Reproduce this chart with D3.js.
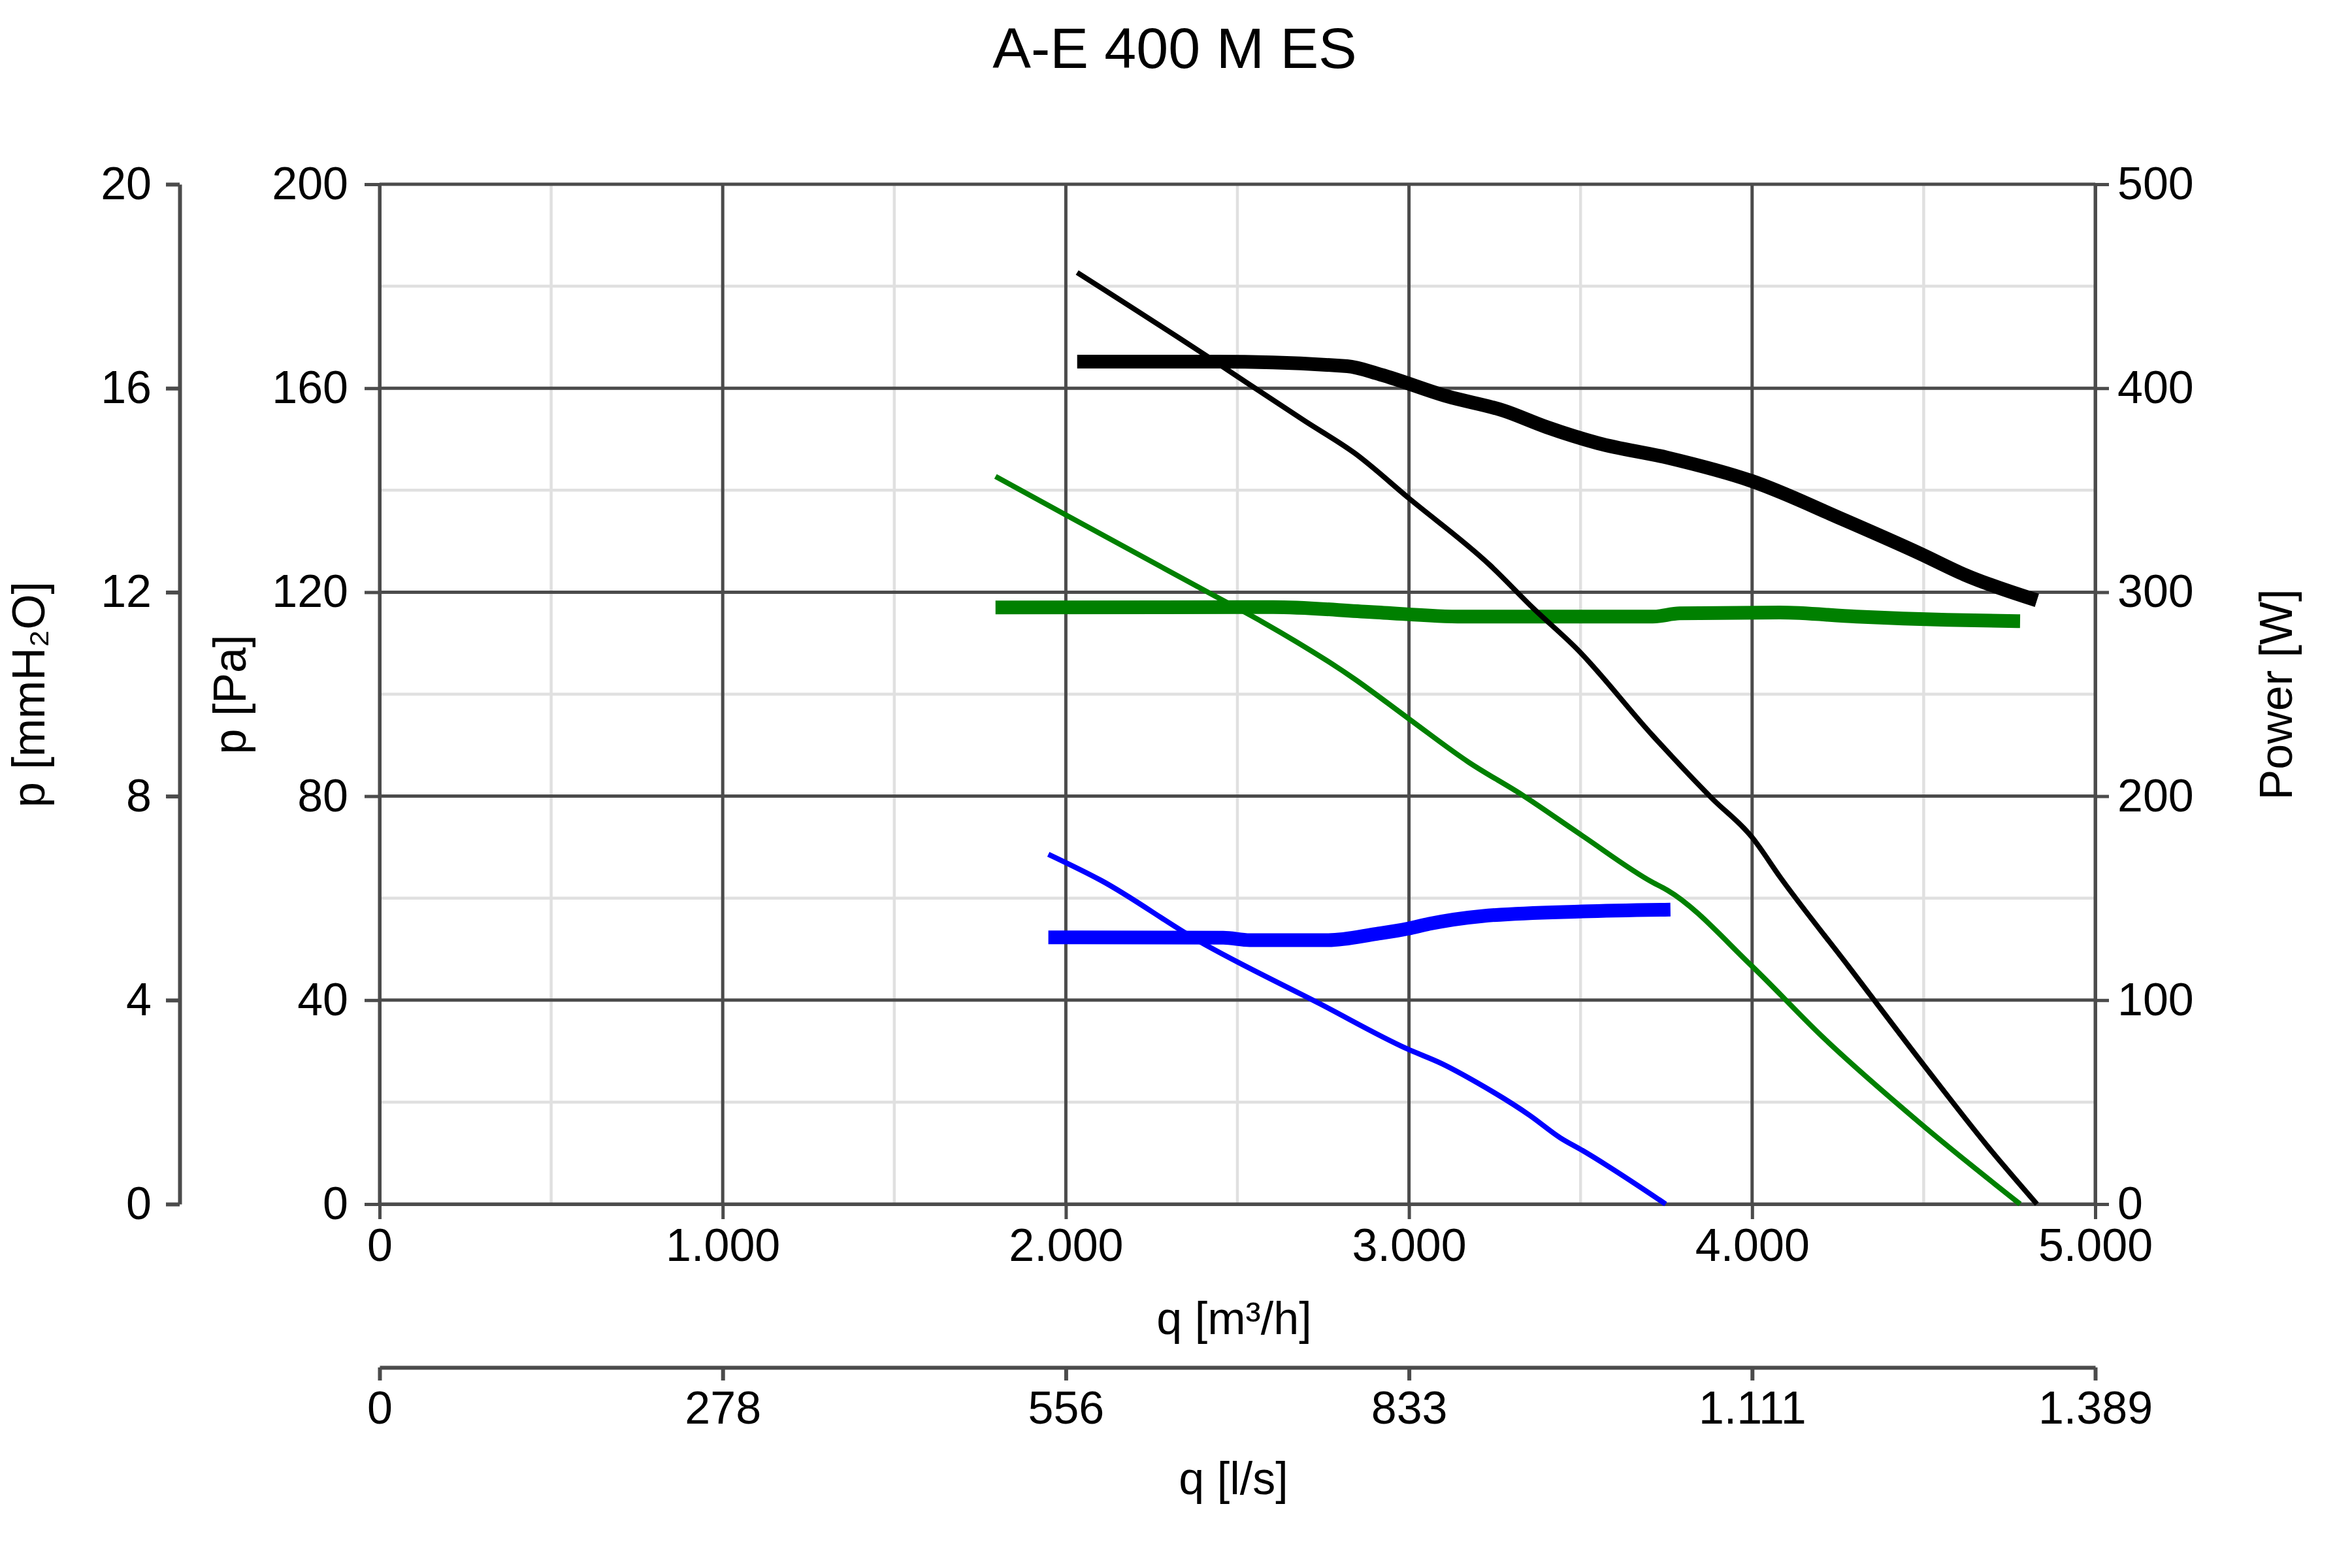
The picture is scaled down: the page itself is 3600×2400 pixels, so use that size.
<!DOCTYPE html>
<html lang="en">
  <head>
    <meta charset="UTF-8">
    <title>A-E 400 M ES</title>
    <style>
      body { margin: 0; background: #fff; }
      text { font-family: "Liberation Sans", Arial, sans-serif; fill: #000; }
    </style>
  </head>
  <body>
    <div id="chart"></div>
    <script src="https://d3js.org/d3.v7.js"></script>
    <script>
        // flow [m3/h] and pressure [Pa] / power [W]
        var qBlackP = [2033, 2422, 2529, 2698, 2841, 3000, 3236, 3363, 3489, 3710, 3884, 3999, 4084, 4280, 4501, 4688, 4830];
        var pBlackP = [182.7, 165.8, 161.0, 153.5, 147.3, 138.4, 125.3, 116.8, 108.9, 91.9, 79.5, 72.0, 63.9, 46.7, 27.2, 11.2, 0];
        var qBlackW = [2033, 2440, 2820, 2917, 3112, 3276, 3400, 3552, 3752, 3999, 4263, 4491, 4619, 4830];
        var wBlackW = [413, 413, 410.8, 406.7, 396, 389, 381, 373, 366, 354.5, 335.8, 318.8, 308.6, 296];

        var qGreenP = [1795, 1996, 2430, 2572, 2841, 2999, 3173, 3331, 3504, 3710, 3752, 3999, 4202, 4491, 4781];
        var pGreenP = [142.7, 135.3, 119.4, 114.2, 103.0, 95.2, 86.7, 80.2, 72.3, 63.1, 61.6, 46.7, 33.0, 15.8, 0];
        var qGreenW = [1795, 2604, 2889, 3158, 3710, 3789, 4081, 4304, 4568, 4781];
        var wGreenW = [292.5, 292.7, 290.3, 288, 288, 289.6, 290, 288, 286.4, 285.8];

        var qBlueP = [1949, 2102, 2382, 2740, 2996, 3097, 3199, 3352, 3441, 3506, 3748];
        var pBlueP = [68.6, 63.5, 51.8, 39.3, 30.4, 27.5, 23.8, 17.4, 13.0, 10.5, 0];
        var qBlueW = [1949, 2459, 2536, 2765, 2906, 2996, 3059, 3213, 3506, 3762];
        var wBlueW = [130.8, 130.6, 129.4, 129.4, 132.5, 135, 137.4, 141.2, 143.5, 144.4];

        // tick values
        var qTicks = [0, 1000, 2000, 3000, 4000, 5000];
        var qMinor = [500, 1500, 2500, 3500, 4500];
        var paTicks = [0, 40, 80, 120, 160, 200];
        var paMinor = [20, 60, 100, 140, 180];
        var mmTicks = [0, 4, 8, 12, 16, 20];
        var wTicks = [0, 100, 200, 300, 400, 500];
        var lsTicks = qTicks.map(function(q){ return q / 3.6; });

        var loc = d3.formatLocale({decimal: ",", thousands: ".", grouping: [3], currency: ["", "€"]});
        var fmt = loc.format(",.0f");

        var width = 3600, height = 2400;
        // plot box (window.top is reserved, so no "top" here)
        var plotL = 581, plotR = 3207, plotT = 282, plotB = 1843;
        var gridDark = "#4b4b4b", gridLight = "#e0e0e0";

        var svg = d3.select("#chart")
          .append("svg")
            .attr("width", width)
            .attr("height", height);

        svg.append("rect").attr("width", width).attr("height", height).attr("fill", "#fff");

        var x = d3.scaleLinear().domain([0, 5000]).range([plotL, plotR]);
        var xLs = d3.scaleLinear().domain([0, 5000 / 3.6]).range([plotL, plotR]);
        var yPa = d3.scaleLinear().domain([0, 200]).range([plotB, plotT]);
        var yMm = d3.scaleLinear().domain([0, 20]).range([plotB, plotT]);
        var yW = d3.scaleLinear().domain([0, 500]).range([plotB, plotT]);

        // minor grid
        var grid = svg.append("g");
        grid.selectAll(".vmin").data(qMinor).enter().append("line")
            .attr("x1", function(d){ return x(d); }).attr("x2", function(d){ return x(d); })
            .attr("y1", yPa(0)).attr("y2", yPa(200))
            .attr("stroke", gridLight).attr("stroke-width", 4.5);
        grid.selectAll(".hmin").data(paMinor).enter().append("line")
            .attr("x1", x(0)).attr("x2", x(5000))
            .attr("y1", function(d){ return yPa(d); }).attr("y2", function(d){ return yPa(d); })
            .attr("stroke", gridLight).attr("stroke-width", 4.5);

        // major grid
        grid.selectAll(".vmaj").data(qTicks).enter().append("line")
            .attr("x1", function(d){ return x(d); }).attr("x2", function(d){ return x(d); })
            .attr("y1", yPa(0)).attr("y2", yPa(200))
            .attr("stroke", gridDark).attr("stroke-width", 5);
        grid.selectAll(".hmaj").data(paTicks).enter().append("line")
            .attr("x1", x(0)).attr("x2", x(5000))
            .attr("y1", function(d){ return yPa(d); }).attr("y2", function(d){ return yPa(d); })
            .attr("stroke", gridDark).attr("stroke-width", 5);

        function styleAxis(g, lw) {
            g.attr("font-family", null).attr("font-size", null);
            g.select(".domain").attr("stroke", gridDark).attr("stroke-width", lw);
            g.selectAll(".tick line").attr("stroke", gridDark).attr("stroke-width", lw);
            g.selectAll(".tick text").attr("font-size", 70).attr("fill", "#000");
        }

        // Pa axis
        svg.append("g").attr("transform", "translate(" + plotL + ",0)")
            .call(d3.axisLeft(yPa).tickValues(paTicks).tickSize(23).tickSizeOuter(0).tickPadding(25))
            .call(styleAxis, 5);

        // mmH2O axis
        svg.append("g").attr("transform", "translate(275,0)")
            .call(d3.axisLeft(yMm).tickValues(mmTicks).tickSize(21).tickSizeOuter(0).tickPadding(22))
            .call(styleAxis, 6);

        // power axis
        svg.append("g").attr("transform", "translate(" + plotR + ",0)")
            .call(d3.axisRight(yW).tickValues(wTicks).tickSize(21).tickSizeOuter(0).tickPadding(13))
            .call(styleAxis, 5);

        // q m3/h axis
        svg.append("g").attr("transform", "translate(0," + plotB + ")")
            .call(d3.axisBottom(x).tickValues(qTicks).tickFormat(fmt).tickSize(23).tickSizeOuter(0).tickPadding(14))
            .call(styleAxis, 5);

        // q l/s axis
        svg.append("g").attr("transform", "translate(0,2093)")
            .call(d3.axisBottom(xLs).tickValues(lsTicks).tickFormat(fmt).tickSize(20).tickSizeOuter(0).tickPadding(16))
            .call(styleAxis, 6);

        // curves
        var lineP = d3.line().x(function(d){ return x(d[0]); }).y(function(d){ return yPa(d[1]); }).curve(d3.curveMonotoneX);
        var lineW = d3.line().x(function(d){ return x(d[0]); }).y(function(d){ return yW(d[1]); }).curve(d3.curveMonotoneX);

        var curves = [
            {q: qBlackW, v: wBlackW, gen: lineW, color: "#000000", w: 21},
            {q: qGreenW, v: wGreenW, gen: lineW, color: "#008000", w: 21},
            {q: qBlueW, v: wBlueW, gen: lineW, color: "#0000ff", w: 21},
            {q: qBlackP, v: pBlackP, gen: lineP, color: "#000000", w: 8},
            {q: qGreenP, v: pGreenP, gen: lineP, color: "#008000", w: 8},
            {q: qBlueP, v: pBlueP, gen: lineP, color: "#0000ff", w: 8}
        ];

        svg.append("g").selectAll("path")
          .data(curves)
          .enter()
          .append("path")
            .attr("d", function(c){ return c.gen(d3.zip(c.q, c.v)); })
            .attr("fill", "none")
            .attr("stroke", function(c){ return c.color; })
            .attr("stroke-width", function(c){ return c.w; })
            .attr("stroke-linejoin", "round");

        // titles
        svg.append("text").attr("x", 1798).attr("y", 104)
            .attr("text-anchor", "middle").attr("font-size", 88)
            .text("A-E 400 M ES");
        svg.append("text").attr("x", 1889).attr("y", 2042)
            .attr("text-anchor", "middle").attr("font-size", 70)
            .text("q [m³/h]");
        svg.append("text").attr("x", 1888).attr("y", 2287)
            .attr("text-anchor", "middle").attr("font-size", 70)
            .text("q [l/s]");
        svg.append("text").attr("transform", "translate(68,1063) rotate(-90)")
            .attr("text-anchor", "middle").attr("font-size", 70)
            .text("p [mmH₂O]");
        svg.append("text").attr("transform", "translate(376,1063) rotate(-90)")
            .attr("text-anchor", "middle").attr("font-size", 70)
            .text("p [Pa]");
        svg.append("text").attr("transform", "translate(3508,1063) rotate(-90)")
            .attr("text-anchor", "middle").attr("font-size", 70)
            .text("Power [W]");
    </script>
  </body>
</html>
